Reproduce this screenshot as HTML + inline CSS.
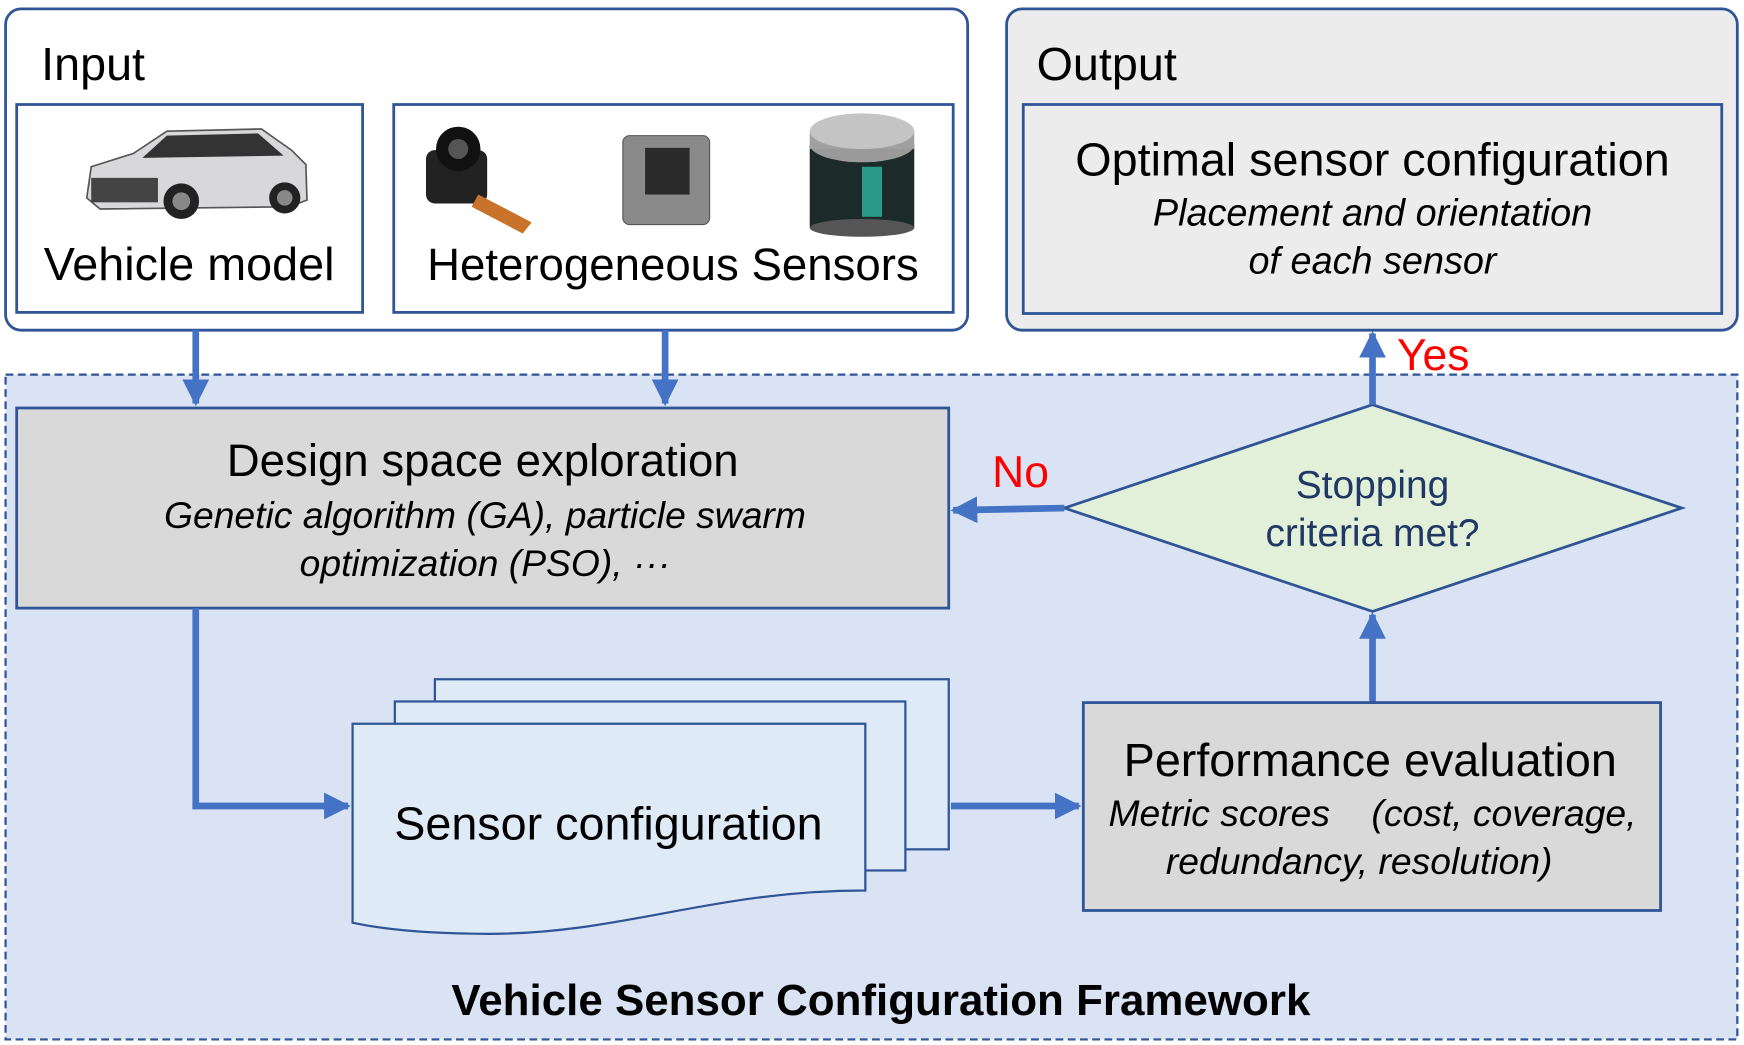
<!DOCTYPE html>
<html><head><meta charset="utf-8"><style>html,body{margin:0;padding:0;background:#fff}svg{display:block}text{font-family:"Liberation Sans",sans-serif}</style></head><body>
<svg width="1744" height="1045" viewBox="0 0 1568 940" preserveAspectRatio="none" xmlns="http://www.w3.org/2000/svg">
<defs>
<marker id="ah" viewBox="0 0 10 10" refX="9" refY="5" markerWidth="4" markerHeight="4" orient="auto-start-reverse" markerUnits="strokeWidth"><path d="M0,0 L10,5 L0,10 z" fill="#4472c4"/></marker>
</defs>
<rect x="5" y="8" width="865" height="289" rx="14" fill="#fff" stroke="#2f5597" stroke-width="2.5"/>
<text x="37" y="72" font-size="42">Input</text>
<rect x="15" y="94" width="311" height="187" fill="#fff" stroke="#2f5597" stroke-width="2.5"/>
<rect x="354" y="94" width="503" height="187" fill="#fff" stroke="#2f5597" stroke-width="2.5"/>
<g>
<path d="M78,178 L82,150 L120,138 L150,118 L235,116 L262,135 L275,148 L276,180 L260,186 L90,188 Z" fill="#d8d8da" stroke="#555" stroke-width="1.5"/>
<path d="M150,122 L232,120 L255,140 L128,142 Z" fill="#333"/>
<rect x="82" y="160" width="60" height="22" fill="#444"/>
<circle cx="163" cy="181" r="16" fill="#222"/><circle cx="163" cy="181" r="8" fill="#888"/>
<circle cx="256" cy="178" r="14" fill="#222"/><circle cx="256" cy="178" r="7" fill="#888"/>
</g>
<g>
<rect x="383" y="135" width="55" height="48" rx="8" fill="#222"/>
<circle cx="412" cy="134" r="20" fill="#111"/><circle cx="412" cy="134" r="9" fill="#555"/>
<path d="M430,175 L478,200 L470,210 L424,186 Z" fill="#c8722a"/>
</g>
<g><rect x="560" y="122" width="78" height="80" rx="6" fill="#8a8a8a" stroke="#555"/><rect x="580" y="133" width="40" height="42" fill="#2a2a2a"/></g>
<g><rect x="728" y="130" width="94" height="75" fill="#1c2a2a"/><ellipse cx="775" cy="130" rx="47" ry="16" fill="#9a9a9a"/><rect x="728" y="118" width="94" height="16" fill="#a0a0a0"/><ellipse cx="775" cy="118" rx="47" ry="16" fill="#c4c4c4"/><rect x="775" y="150" width="18" height="45" fill="#2a9a8a"/><ellipse cx="775" cy="205" rx="47" ry="8" fill="#555"/></g>
<text x="170" y="252" font-size="42" text-anchor="middle">Vehicle model</text>
<text x="605" y="252" font-size="41" text-anchor="middle">Heterogeneous Sensors</text>
<rect x="905" y="8" width="657" height="289" rx="14" fill="#ececec" stroke="#2f5597" stroke-width="2.5"/>
<text x="932" y="72" font-size="42">Output</text>
<rect x="920" y="94" width="628" height="188" fill="#ececec" stroke="#2f5597" stroke-width="2.5"/>
<text x="1234" y="158" font-size="42" text-anchor="middle">Optimal sensor configuration</text>
<text x="1234" y="203" font-size="34" font-style="italic" text-anchor="middle">Placement and orientation</text>
<text x="1234" y="246" font-size="34" font-style="italic" text-anchor="middle">of each sensor</text>
<rect x="5" y="337" width="1557" height="598" fill="#dae3f3" stroke="#2f5597" stroke-width="2" stroke-dasharray="7,4"/>
<line x1="176" y1="297" x2="176" y2="363" stroke="#4472c4" stroke-width="6" marker-end="url(#ah)"/>
<line x1="598" y1="297" x2="598" y2="363" stroke="#4472c4" stroke-width="6" marker-end="url(#ah)"/>
<rect x="15" y="367" width="838" height="180" fill="#d9d9d9" stroke="#2f5597" stroke-width="2.5"/>
<text x="434" y="428" font-size="41" text-anchor="middle">Design space exploration</text>
<text x="436" y="475" font-size="33.5" font-style="italic" text-anchor="middle">Genetic algorithm (GA), particle swarm</text>
<text x="436" y="518" font-size="33.5" font-style="italic" text-anchor="middle">optimization (PSO), ···</text>
<polygon points="957,457 1234,364 1512,457 1234,550" fill="#e2efd9" stroke="#2f5597" stroke-width="2.5"/>
<text x="1234" y="448" font-size="35" fill="#1f3864" text-anchor="middle">Stopping</text>
<text x="1234" y="491" font-size="35" fill="#1f3864" text-anchor="middle">criteria met?</text>
<line x1="957" y1="457" x2="857" y2="459" stroke="#4472c4" stroke-width="6" marker-end="url(#ah)"/>
<text x="892" y="438" font-size="40" fill="#ff0000">No</text>
<line x1="1234" y1="364" x2="1234" y2="300" stroke="#4472c4" stroke-width="6" marker-end="url(#ah)"/>
<text x="1256" y="333" font-size="40" fill="#ff0000">Yes</text>
<line x1="1234" y1="632" x2="1234" y2="553" stroke="#4472c4" stroke-width="6" marker-end="url(#ah)"/>
<rect x="974" y="632" width="519" height="187" fill="#d9d9d9" stroke="#2f5597" stroke-width="2.5"/>
<text x="1232" y="698" font-size="42" text-anchor="middle">Performance evaluation</text>
<text x="1234" y="743" font-size="33.5" font-style="italic" text-anchor="middle" xml:space="preserve">Metric scores    (cost, coverage,</text>
<text x="1222" y="786" font-size="33.5" font-style="italic" text-anchor="middle">redundancy, resolution)</text>
<rect x="391" y="611" width="462" height="153" fill="#deebf7" stroke="#2f5597" stroke-width="2"/>
<rect x="355" y="631" width="459" height="152" fill="#deebf7" stroke="#2f5597" stroke-width="2"/>
<path d="M317,651 L778,651 L778,801 C640,801 560,840 440,840 C380,840 340,835 317,830 Z" fill="#deebf7" stroke="#2f5597" stroke-width="2"/>
<text x="547" y="755" font-size="42" text-anchor="middle">Sensor configuration</text>
<polyline points="176,547 176,725 313,725" fill="none" stroke="#4472c4" stroke-width="6" marker-end="url(#ah)"/>
<line x1="855" y1="725" x2="970" y2="725" stroke="#4472c4" stroke-width="6" marker-end="url(#ah)"/>
<text x="792" y="913" font-size="39.5" font-weight="bold" text-anchor="middle">Vehicle Sensor Configuration Framework</text>
</svg>
</body></html>
